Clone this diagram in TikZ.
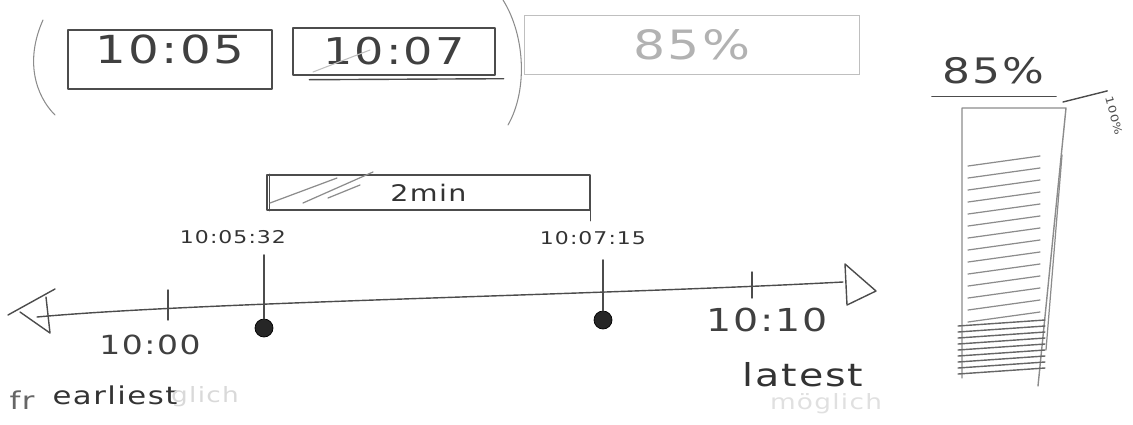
\documentclass[tikz,border=0pt]{standalone}
\usepackage{fontspec}
\usepackage{tikz}
\usetikzlibrary{calc}

\newfontfamily\sketch{DejaVu Sans}[FakeStretch=1.25, LetterSpace=6]
\newcommand{\fsz}[1]{\fontsize{#1}{#1}\selectfont}

\begin{document}
\begin{tikzpicture}[x=0.02cm, y=-0.02cm,
    pencil/.style={draw=black!70, line width=0.8pt, line cap=round, line join=round},
    faint/.style={draw=black!25, line width=0.6pt, line cap=round},
    shade/.style={draw=black!45, line width=0.7pt, line cap=round},
    clockbox/.style={pencil, minimum width=4.08cm, minimum height=1.18cm, inner sep=0pt, text=black!75, font=\sketch\fsz{22}},
    stamp/.style={text=black!80, font=\sketch\fsz{10}},
    axislabel/.style={text=black!75, font=\sketch\fsz{15}},
    hand/.style={text=black!80, font=\sketch\fsz{14}},
    dot/.style={circle, fill=black!85, draw=black, minimum size=0.36cm, inner sep=0pt}
]
\useasboundingbox (0,0) rectangle (1133,424);

\draw[faint, draw=black!45] (43,20) .. controls (25,60) and (35,95) .. (55,115);
\draw[faint, draw=black!45] (503,0) .. controls (525,35) and (528,90) .. (508,125);

\node[clockbox, text depth=0.4cm] (now) at (170,59.5) {10:05};
\node[clockbox, minimum width=4.04cm, minimum height=0.94cm, font=\sketch\fsz{21}] (due) at (394,51.5) {10:07};
\draw[pencil] ($(due.south west)+(17,4)$) -- ($(due.south east)+(8,3)$);
\draw[faint] (313,72) -- (370,50);

\node[faint, draw, minimum width=6.7cm, minimum height=1.18cm, text=black!30, font=\sketch\fsz{23}] (ratio) at (692,45) {85\%};

\node[text=black!75, font=\sketch\fsz{20}] (level) at (993,71) {85\%};
\draw[pencil] ($(level.south west)+(-4,6)$) -- ($(level.south east)+(6,6)$);
\draw[pencil, draw=black!45] (962,378) -- (962,108) -- (1066,108) -- (1038,386);
\draw[shade] (1062,155) -- (1046,350);
\foreach \y in {160,172,...,316}
  \draw[shade] (968,{\y+6}) -- (1040,{\y-4});
\foreach \y in {322,328,...,372}
  \draw[pencil, draw=black!60] (958,{\y+4}) -- (1045,{\y-2});
\node[rotate=-75, text=black!70, font=\sketch\fsz{6}] (full) at (1114,116) {100\%};
\draw[pencil] (1063,102) -- (full.west);

\coordinate (tl-w) at (37,317);
\coordinate (tl-e) at (843,282);
\draw[pencil] (tl-w) .. controls (200,302) and (600,295) .. (tl-e);
\draw[pencil] (55,289) -- (8,315);
\draw[pencil] (20,312) -- (50,333) -- (46,297);
\draw[pencil] (845,264) -- (876,291) -- (847,305) -- cycle;

\coordinate (tk-early) at (168,307);
\coordinate (tk-late) at (752,286);
\draw[pencil] (tk-early) ++(0,-17) -- ++(0,30);
\draw[pencil] (tk-late) ++(0,-14) -- ++(0,26);
\node[axislabel] (lab-early) at (150,345) {10:00};
\node[axislabel, font=\sketch\fsz{18}] (lab-late) at (767,320) {10:10};
\node[hand] (earliest) at (115,395) {earliest};
\node[hand, font=\sketch\fsz{18}] (latest) at (803,375) {latest};
\node[hand, text=black!60] (fr) at (22,400) {fr};
\node[hand, text=black!15, font=\sketch\fsz{12}] (glich) at (205,397) {glich};
\node[hand, text=black!12, font=\sketch\fsz{12}] (moeglich) at (826,404) {möglich};

\node[dot] (start) at (264,328) {};
\node[dot] (end) at (603,320) {};
\node[stamp] (start-t) at (233,237) {10:05:32};
\node[stamp] (end-t) at (593,238) {10:07:15};
\draw[pencil, line width=1.1pt] (start) -- (start |- 0,255);
\draw[pencil, line width=1.1pt] (end) -- (end |- 0,260);

\node[pencil, minimum width=6.46cm, minimum height=0.7cm, inner sep=0pt, text=black!80, font=\sketch\fsz{13}] (span) at (428.5,192.5) {2min};
\draw[pencil] ($(span.north east)+(0,10)$) -- ($(span.south east)+(0,10)$);
\draw[pencil] ($(span.north west)+(3,0)$) -- ($(span.south west)+(3,0)$);
\foreach \a/\b/\c/\d in {270/203/337/178, 303/203/373/172, 328/198/360/185}
  \draw[shade] (\a,\b) -- (\c,\d);
\end{tikzpicture}
\end{document}
